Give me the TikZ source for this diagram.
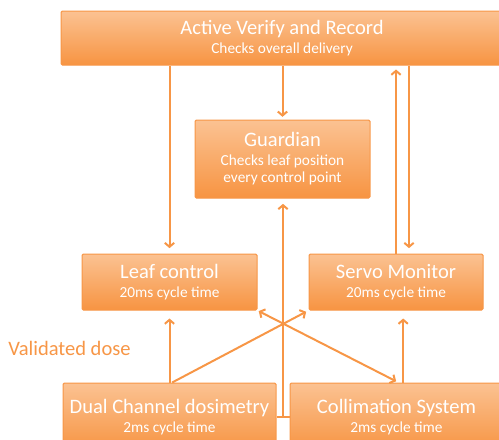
\documentclass[tikz,border=0pt]{standalone}
\usepackage{fontspec}
\setmainfont{Carlito}
\usetikzlibrary{arrows.meta,calc}

\definecolor{boxtop}{RGB}{251,194,146}
\definecolor{boxbot}{RGB}{247,148,66}
\definecolor{linkor}{RGB}{247,150,70}

\newcommand{\ttl}{\fontsize{15.4}{17}\selectfont}
\newcommand{\sub}{\fontsize{11.5}{14}\selectfont}

\begin{document}
\begin{tikzpicture}[x=0.75pt,y=0.75pt,yscale=-1,xscale=1,
  block/.style={draw=linkor,line width=0.75pt,rounded corners=1pt,top color=boxtop,bottom color=boxbot,text=white,align=center,inner sep=0pt},
  link/.style={draw=linkor,line width=1.5pt,-{Straight Barb[length=3pt,width=7pt]}}]
\useasboundingbox (0,0) rectangle (499,439);

%Shapes: Rectangles
\node (top) [block,minimum width=331.5pt,minimum height=40.5pt] at (282,38) {\ttl Active Verify and Record\\[2.5pt] \sub Checks overall delivery};
\node (guard) [block,minimum width=131.25pt,minimum height=58.5pt] at (282.5,159) {\ttl Guardian\\[2pt] \sub Checks leaf position\\[1pt] \sub every control point};
\node (leaf) [block,minimum width=131.25pt,minimum height=42pt] at (169.5,282) {\ttl Leaf control\\[2.5pt] \sub 20ms cycle time};
\node (servo) [block,minimum width=130.5pt,minimum height=42pt] at (396,282) {\ttl Servo Monitor\\[2.5pt] \sub 20ms cycle time};
\node (dual) [block,minimum width=159.75pt,minimum height=51pt] at (169.5,417) {\ttl Dual Channel dosimetry\\[2.5pt] \sub 2ms cycle time};
\node (coll) [block,minimum width=159.75pt,minimum height=51pt] at (396.5,417) {\ttl Collimation System\\[2.5pt] \sub 2ms cycle time};

% Text Node
\node (dose) [anchor=west,inner sep=0pt,text=linkor,font=\ttl] at (8,348) {Validated dose};

%Straight Lines
\draw [link,shorten >=4pt] (top.south -| leaf.north) -- (leaf.north);
\draw [link,shorten >=2pt] (top.south -| guard.north) -- (guard.north);
\draw [link,shorten >=3pt] (servo.north) -- (servo.north |- top.south);
\draw [link,shorten >=4pt] ([xshift=9.75pt]servo.north |- top.south) -- ([xshift=9.75pt]servo.north);
\draw [link,shorten >=6pt] (dual.north) -- (leaf.south);
\draw [link,shorten >=6pt] ([xshift=5pt]coll.north) -- ([xshift=5pt]coll.north |- servo.south);

% bottom feeds into Guardian
\coordinate (mid) at ($(dual.east)!0.5!(coll.west)$);
\draw [draw=linkor,line width=1.5pt] (dual.east) -- (coll.west);
\draw [link,shorten >=4pt] (mid) -- (mid |- guard.south);

% crossing links
\draw [link,shorten >=2pt] ([xshift=2pt]dual.north) -- (servo.south west);
\draw [link,{Straight Barb[length=3pt,width=7pt]}-{Straight Barb[length=3pt,width=7pt]},shorten <=1pt,shorten >=2pt] (leaf.south east) -- ([xshift=1.5pt]coll.north);

\end{tikzpicture}
\end{document}
